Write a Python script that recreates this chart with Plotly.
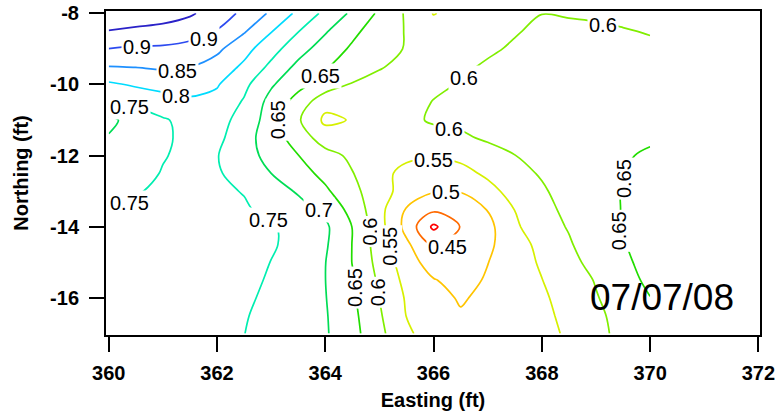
import plotly.graph_objects as go

# Grid coordinates (ft)
easting = [360.0, 360.5, 361.0, 361.5, 362.0, 362.5, 363.0, 363.5, 364.0, 364.5, 365.0,
           365.5, 366.0, 366.5, 367.0, 367.5, 368.0, 368.5, 369.0, 369.5, 370.0]
northing = [-17.0, -16.5, -16.0, -15.5, -15.0, -14.5, -14.0, -13.5, -13.0, -12.5,
            -12.0, -11.5, -11.0, -10.5, -10.0, -9.5, -9.0, -8.5, -8.0]

# Values, one row per northing (south -> north)
row_m17_0 = [0.776, 0.777, 0.777, 0.775, 0.767, 0.7505, 0.736, 0.72, 0.705, 0.667, 0.612, 0.56, 0.523, 0.51, 0.523, 0.525, 0.533, 0.558, 0.588, 0.612, 0.64]
row_m16_5 = [0.774, 0.775, 0.776, 0.775, 0.768, 0.753, 0.737, 0.72, 0.704, 0.663, 0.606, 0.549, 0.52, 0.505, 0.52, 0.526, 0.537, 0.564, 0.591, 0.615, 0.645]
row_m16_0 = [0.772, 0.773, 0.775, 0.775, 0.77, 0.758, 0.74, 0.72, 0.702, 0.658, 0.5995, 0.545, 0.518, 0.495, 0.512, 0.527, 0.542, 0.57, 0.597, 0.622, 0.649]
row_m15_5 = [0.77, 0.772, 0.774, 0.775, 0.772, 0.762, 0.745, 0.721, 0.7005, 0.654, 0.592, 0.536, 0.503, 0.483, 0.505, 0.527, 0.549, 0.576, 0.603, 0.632, 0.66]
row_m15_0 = [0.768, 0.77, 0.772, 0.774, 0.773, 0.768, 0.749, 0.725, 0.701, 0.649, 0.583, 0.525, 0.475, 0.47, 0.499, 0.527, 0.556, 0.584, 0.618, 0.64, 0.667]
row_m14_5 = [0.765, 0.768, 0.77, 0.772, 0.772, 0.77, 0.756, 0.732, 0.706, 0.649, 0.575, 0.509, 0.449, 0.46, 0.49, 0.53, 0.563, 0.594, 0.632, 0.647, 0.671]
row_m14_0 = [0.76, 0.765, 0.768, 0.77, 0.772, 0.77, 0.755, 0.732, 0.709, 0.649, 0.568, 0.485, 0.39, 0.452, 0.485, 0.543, 0.575, 0.604, 0.641, 0.651, 0.672]
row_m13_5 = [0.752, 0.755, 0.758, 0.762, 0.765, 0.755, 0.738, 0.716, 0.687, 0.633, 0.565, 0.497, 0.462, 0.475, 0.502, 0.551, 0.585, 0.612, 0.645, 0.6505, 0.671]
row_m13_0 = [0.74, 0.748, 0.755, 0.76, 0.758, 0.748, 0.722, 0.695, 0.658, 0.616, 0.565, 0.535, 0.503, 0.502, 0.535, 0.567, 0.593, 0.622, 0.648, 0.6502, 0.667]
row_m12_5 = [0.728, 0.738, 0.752, 0.758, 0.755, 0.731, 0.7002, 0.669, 0.637, 0.602, 0.566, 0.535, 0.53, 0.535, 0.558, 0.583, 0.605, 0.632, 0.648, 0.649, 0.661]
row_m12_0 = [0.715, 0.73, 0.748, 0.758, 0.752, 0.72, 0.684, 0.651, 0.618, 0.59, 0.575, 0.56, 0.555, 0.561, 0.585, 0.599, 0.625, 0.64, 0.647, 0.647, 0.654]
row_m11_5 = [0.703, 0.724, 0.744, 0.76, 0.762, 0.72, 0.674, 0.628, 0.575, 0.56, 0.565, 0.58, 0.585, 0.594, 0.605, 0.615, 0.635, 0.643, 0.645, 0.644, 0.646]
row_m11_0 = [0.69, 0.718, 0.745, 0.765, 0.76, 0.74, 0.671, 0.606, 0.54, 0.553, 0.565, 0.59, 0.605, 0.608, 0.616, 0.627, 0.637, 0.642, 0.642, 0.64, 0.638]
row_m10_5 = [0.756, 0.764, 0.779, 0.79, 0.785, 0.745, 0.683, 0.63, 0.565, 0.57, 0.575, 0.58, 0.602, 0.611, 0.618, 0.627, 0.634, 0.638, 0.638, 0.635, 0.63]
row_m10_0 = [0.792, 0.806, 0.816, 0.822, 0.804, 0.762, 0.706, 0.664, 0.629, 0.597, 0.583, 0.578, 0.59, 0.603, 0.614, 0.622, 0.628, 0.632, 0.632, 0.628, 0.622]
row_m9_5 = [0.849, 0.852, 0.8565, 0.8506, 0.83, 0.791, 0.739, 0.688, 0.656, 0.619, 0.604, 0.586, 0.58, 0.593, 0.605, 0.614, 0.62, 0.624, 0.625, 0.62, 0.614]
row_m9_0 = [0.899, 0.893, 0.892, 0.885, 0.86, 0.817, 0.769, 0.719, 0.677, 0.643, 0.618, 0.597, 0.578, 0.585, 0.594, 0.605, 0.614, 0.616, 0.617, 0.612, 0.606]
row_m8_5 = [0.948, 0.9375, 0.932, 0.919, 0.898, 0.855, 0.803, 0.752, 0.705, 0.661, 0.626, 0.597, 0.57, 0.575, 0.585, 0.597, 0.608, 0.608, 0.607, 0.602, 0.598]
row_m8_0 = [1.0, 0.99, 0.975, 0.957, 0.926, 0.889, 0.842, 0.789, 0.738, 0.691, 0.642, 0.594, 0.548, 0.565, 0.58, 0.59, 0.5995, 0.597, 0.594, 0.592, 0.59]

z_values = [row_m17_0, row_m16_5, row_m16_0, row_m15_5, row_m15_0, row_m14_5, row_m14_0,
            row_m13_5, row_m13_0, row_m12_5, row_m12_0, row_m11_5, row_m11_0, row_m10_5,
            row_m10_0, row_m9_5, row_m9_0, row_m8_5, row_m8_0]

# Contour levels and tick labels
levels = [0.40, 0.45, 0.50, 0.55, 0.60, 0.65, 0.70, 0.75, 0.80, 0.85, 0.90, 0.95]
x_ticks = [360, 362, 364, 366, 368, 370, 372]
y_ticks = [-16, -14, -12, -10, -8]
y_tick_text = ["-16", "-14", "-12", "-10", "-8"]
date_label = "07/07/08"

# Contour label texts (levels) as printed on the map
label_levels = ["0.9", "0.9", "0.85", "0.8", "0.75", "0.75", "0.65", "0.65", "0.75", "0.7",
                "0.6", "0.55", "0.65", "0.6", "0.45", "0.5", "0.55", "0.6", "0.6", "0.6",
                "0.65", "0.65"]

# ---- styling / placement (kept apart from the data) ----
level_colors = ["#ff0000", "#ff6a00", "#ffc400", "#d6f000", "#80ee00", "#22dd00",
                "#00dd55", "#00eeb0", "#00dcff", "#1e90ff", "#2d4bf0", "#2a22c8"]
label_places = [(360.52, -8.95, 0), (361.76, -8.71, 0), (361.27, -9.61, 0), (361.24, -10.32, 0),
                (360.39, -10.62, 0), (360.39, -13.33, 0), (363.92, -9.76, 0), (363.13, -11.0, -90),
                (362.96, -13.81, 0), (363.88, -13.53, 0), (364.82, -14.14, -90), (365.19, -14.54, -90),
                (364.55, -15.72, -90), (364.98, -15.83, -90), (366.25, -14.58, 0), (366.23, -13.03, 0),
                (366.0, -12.13, 0), (366.28, -11.26, 0), (366.57, -9.83, 0), (369.13, -8.34, 0),
                (369.53, -12.64, -90), (369.43, -14.12, -90)]

FONT = "Liberation Sans, Arial, sans-serif"

fig = go.Figure()
for lv, col in zip(levels, level_colors):
    fig.add_trace(go.Contour(
        x=easting, y=northing, z=z_values,
        contours=dict(start=lv, end=lv, size=0.05, coloring="none", showlabels=False),
        line=dict(width=1.7, color=col, smoothing=1),
        showscale=False, hoverinfo="skip",
    ))

annotations = []
for txt, (lx, ly, ang) in zip(label_levels, label_places):
    annotations.append(dict(text=txt, x=lx, y=ly, xref="x", yref="y", showarrow=False,
                            textangle=ang, bgcolor="white", borderpad=1,
                            xanchor="center", yanchor="middle",
                            font=dict(family=FONT, size=20, color="black")))
annotations.append(dict(text=date_label, xref="paper", yref="paper", x=0.85, y=0.117,
                        xanchor="center", yanchor="middle", showarrow=False,
                        font=dict(family=FONT, size=37, color="black")))

axis_common = dict(
    showgrid=False, zeroline=False, showline=True, linewidth=2, linecolor="black",
    mirror=True, ticks="outside", ticklen=15, tickwidth=2, tickcolor="black",
    automargin=False,
    tickfont=dict(family=FONT, size=20, color="black", weight="bold"),
)

fig.update_layout(
    width=777, height=417,
    margin=dict(l=106, r=17, t=11, b=82),
    paper_bgcolor="white", plot_bgcolor="white",
    showlegend=False,
    xaxis=dict(range=[359.95, 372.03], tickvals=x_ticks, ticklabelstandoff=4, **axis_common,
               title=dict(text="Easting (ft)", standoff=10,
                          font=dict(family=FONT, size=20, color="black", weight="bold"))),
    yaxis=dict(range=[-17.04, -7.935], tickvals=y_ticks, ticktext=y_tick_text,
               ticklabelstandoff=6, **axis_common,
               title=dict(text="Northing (ft)", standoff=16,
                          font=dict(family=FONT, size=20, color="black", weight="bold"))),
    annotations=annotations,
)

# Remove the browser's default page margin so the figure fills the window exactly.
fig.write_html("out.html", config={"displayModeBar": False},
               post_script="document.body.style.margin='0px';")
